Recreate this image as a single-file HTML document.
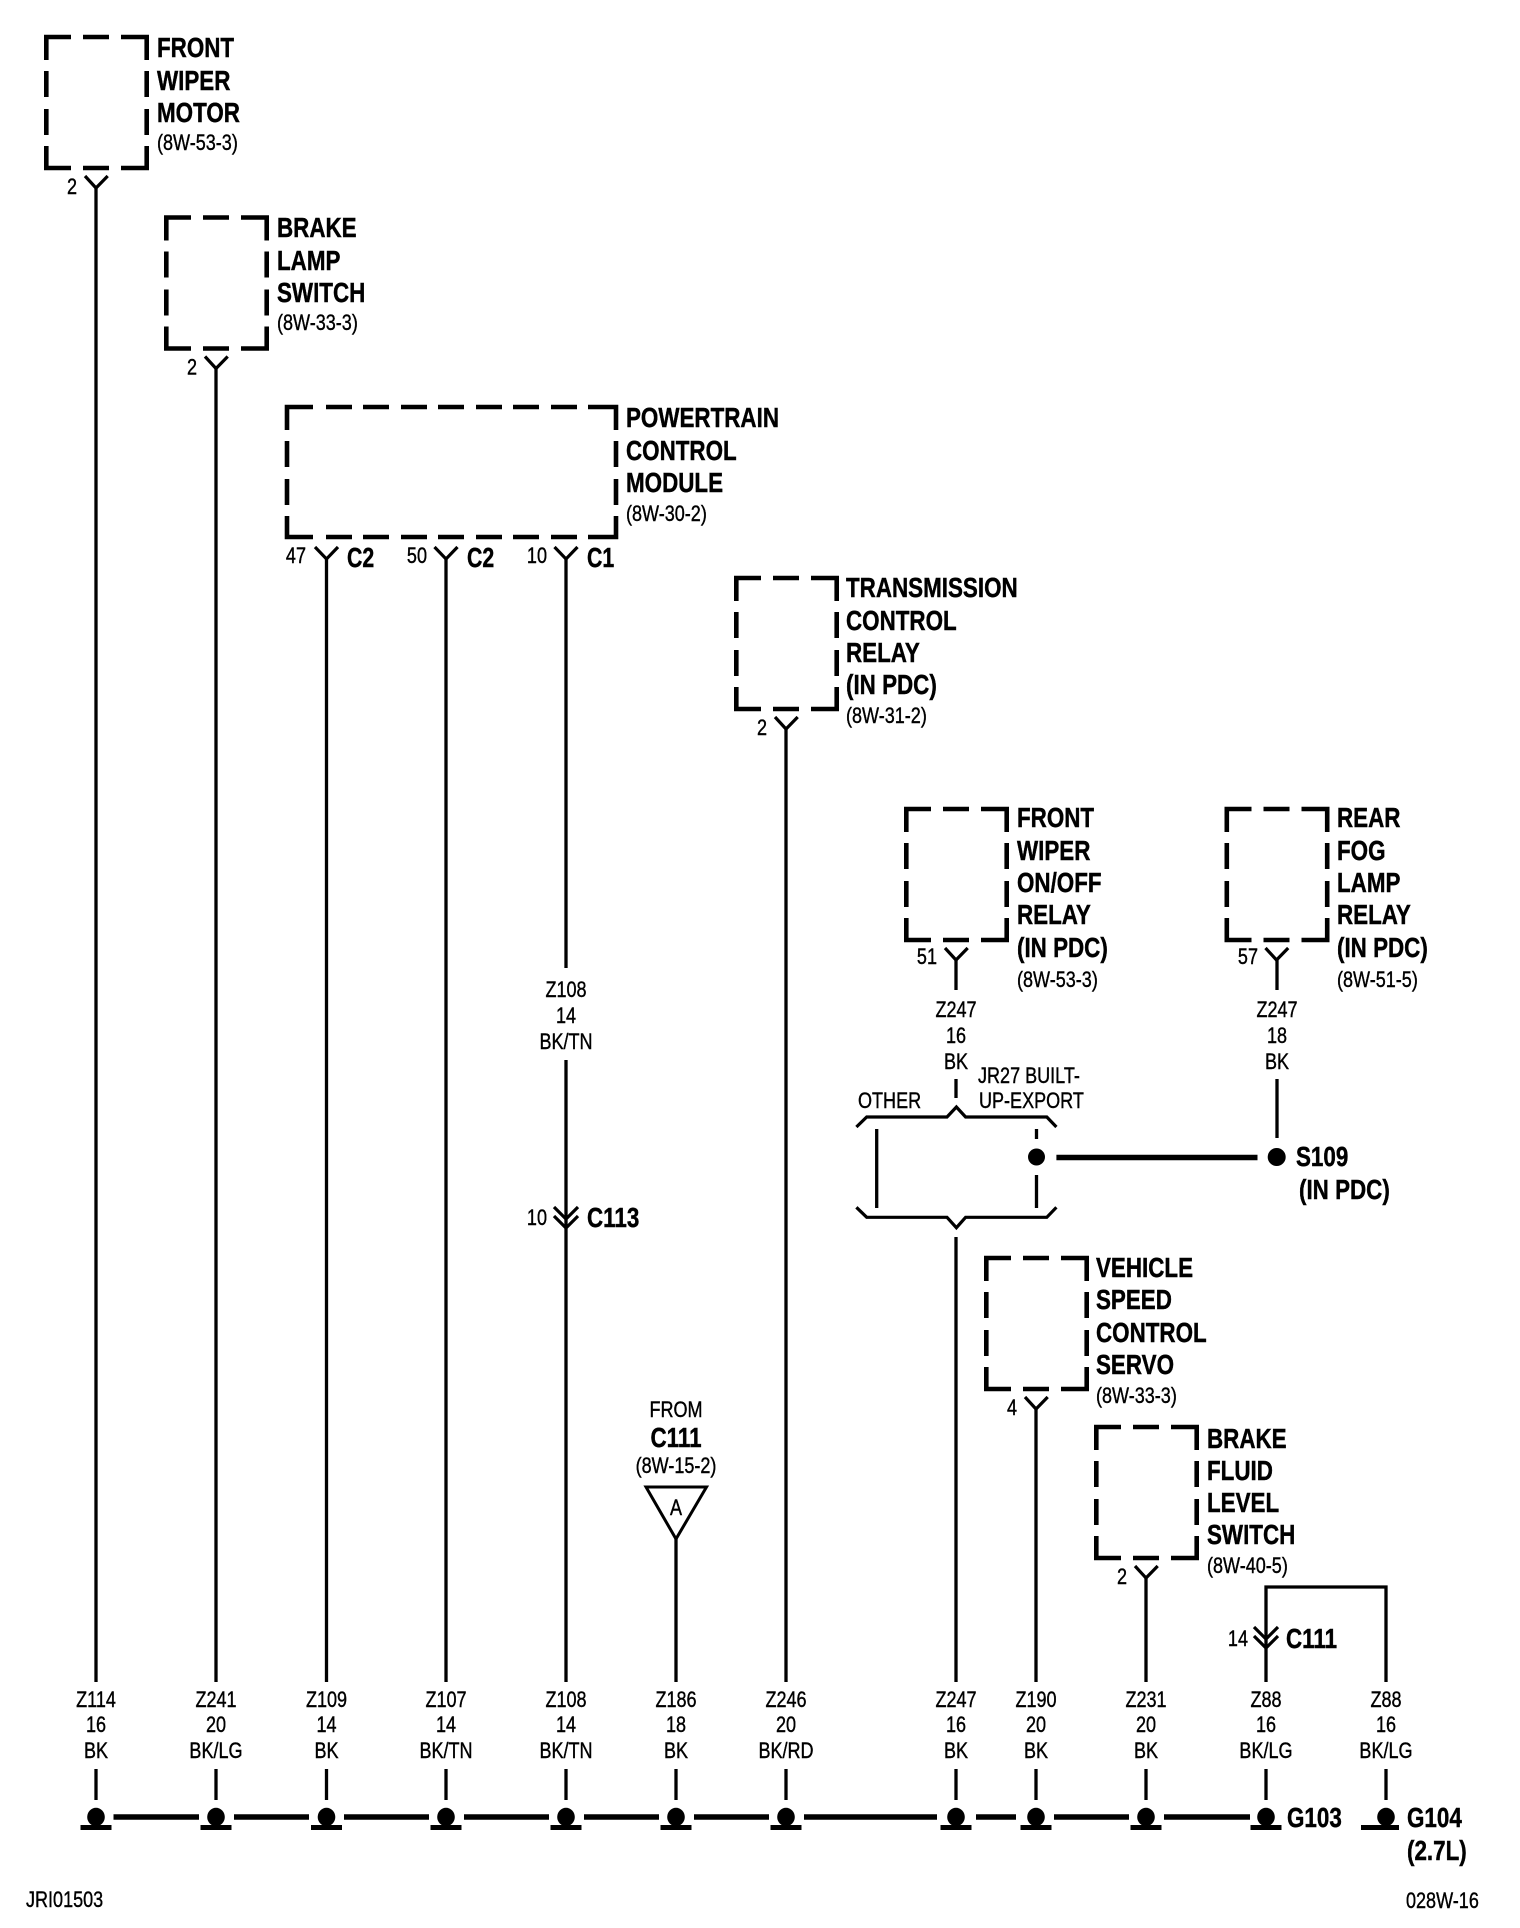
<!DOCTYPE html>
<html>
<head>
<meta charset="utf-8">
<style>
html,body{margin:0;padding:0;background:#fff}
svg{display:block}
text{fill:#000;font-family:"Liberation Sans",sans-serif}
.b{font-weight:bold;font-size:28px;stroke:#000;stroke-width:.45px}
.s{font-size:22px;stroke:#000;stroke-width:.4px}
.m{text-anchor:middle}
.e{text-anchor:end}
.w{fill:none;stroke:#000;stroke-width:3.3}
.d{fill:none;stroke:#000;stroke-width:4.6}
.t{fill:none;stroke:#000;stroke-width:5.5}
.c{fill:none;stroke:#000;stroke-width:3.2}
</style>
</head>
<body>
<svg width="1520" height="1928" viewBox="0 0 1520 1928" xmlns="http://www.w3.org/2000/svg">
<defs>
<g id="box">
<path class="d" d="M46.3 60V37H71M83 37H109M121 37H146.7V60M146.7 71V97M146.7 109V135M146.7 146V168H121M109 168H83M71 168H46.3V146M46.3 135V109M46.3 97V71"/>
<path class="c" d="M85 176L96 188L107.7 176"/>
</g>
<path id="y" class="c" d="M-11.5 0L0 12L11.5 0"/>
<path id="v" class="c" d="M-12 0L0 12L12 0M-12 9L0 21L12 9"/>
<g id="gnd">
<ellipse cx="0" cy="1817" rx="8.8" ry="9.2"/>
<rect x="-15.5" y="1825" width="31" height="5"/>
<path class="w" d="M0 1769V1800"/>
</g>
</defs>

<!-- boxes -->
<use href="#box"/>
<use href="#box" transform="translate(120 180.5)"/>
<use href="#box" transform="translate(690 541)"/>
<use href="#box" transform="translate(860 772)"/>
<use href="#box" transform="translate(1180.5 772)"/>
<use href="#box" transform="translate(940 1221)"/>
<use href="#box" transform="translate(1050 1390)"/>

<!-- PCM -->
<path class="d" d="M287 430V407H313M326 407H352M363 407H389M401 407H427M438 407H464M476 407H502M513 407H539M551 407H577M588 407H616V430M616 441V467M616 479V505M616 516V537H588M577 537H551M539 537H513M502 537H476M464 537H438M427 537H401M389 537H363M352 537H326M313 537H287V516M287 505V479M287 467V441"/>
<use href="#y" transform="translate(326.5 547)"/>
<use href="#y" transform="translate(446 547)"/>
<use href="#y" transform="translate(566 547)"/>

<!-- wires -->
<path class="w" d="M96 188V1682M216 368V1682M326.5 559V1682M446 559V1682M566 559V968M566 1060V1682M786 729V1682M956 960V990M956 1079V1098M956 1237V1682M1277 960V990M1277 1079V1138M1036 1409V1682M1146 1578V1682M1266 1682V1587H1386V1682M676 1539V1682M876.7 1129V1208M1036.5 1129V1139M1036.5 1175V1208"/>

<!-- chevrons -->
<use href="#v" transform="translate(566 1207)"/>
<use href="#v" transform="translate(1266 1627)"/>

<!-- brackets -->
<path class="c" d="M856.4 1127L866.7 1117H947L956.4 1107L965.6 1117H1046.8L1056.4 1127"/>
<path class="c" d="M856.4 1207.3L866.7 1217.3H947L956.4 1227.7L965.6 1217.3H1046.8L1056.4 1207.3"/>

<!-- S109 -->
<circle cx="1036.5" cy="1157" r="8.5"/>
<circle cx="1276.7" cy="1157" r="9"/>
<path class="t" d="M1056.4 1157.5H1257.5"/>

<!-- triangle -->
<path fill="none" stroke="#000" stroke-width="3" d="M646 1487H706.5L676 1539Z"/>

<!-- ground -->
<use href="#gnd" x="96"/><use href="#gnd" x="216"/><use href="#gnd" x="326.5"/><use href="#gnd" x="446"/><use href="#gnd" x="566"/><use href="#gnd" x="676"/><use href="#gnd" x="786"/><use href="#gnd" x="956"/><use href="#gnd" x="1036"/><use href="#gnd" x="1146"/><use href="#gnd" x="1266"/>
<ellipse cx="1386" cy="1817" rx="8.8" ry="9.2"/>
<rect x="1361" y="1825" width="38" height="5"/>
<path class="w" d="M1386 1769V1800"/>
<path class="t" d="M113.5 1817H199M234 1817H309M344 1817H429M464 1817H549M584 1817H659M694 1817H769M804 1817H937M976 1817H1016M1054 1817H1129M1164 1817H1250"/>

<!-- bold labels -->
<g class="b">
<text transform="translate(157 57) scale(.8 1)">FRONT</text>
<text transform="translate(157 90) scale(.8 1)">WIPER</text>
<text transform="translate(157 122) scale(.8 1)">MOTOR</text>
<text transform="translate(277 237) scale(.8 1)">BRAKE</text>
<text transform="translate(277 270) scale(.8 1)">LAMP</text>
<text transform="translate(277 302) scale(.8 1)">SWITCH</text>
<text transform="translate(626 427) scale(.8 1)">POWERTRAIN</text>
<text transform="translate(626 460) scale(.8 1)">CONTROL</text>
<text transform="translate(626 492) scale(.8 1)">MODULE</text>
<text transform="translate(347 567) scale(.76 1)">C2</text>
<text transform="translate(467 567) scale(.76 1)">C2</text>
<text transform="translate(587 567) scale(.76 1)">C1</text>
<text transform="translate(846 597) scale(.8 1)">TRANSMISSION</text>
<text transform="translate(846 630) scale(.8 1)">CONTROL</text>
<text transform="translate(846 662) scale(.8 1)">RELAY</text>
<text transform="translate(846 694) scale(.8 1)">(IN PDC)</text>
<text transform="translate(1017 827) scale(.8 1)">FRONT</text>
<text transform="translate(1017 860) scale(.8 1)">WIPER</text>
<text transform="translate(1017 892) scale(.8 1)">ON/OFF</text>
<text transform="translate(1017 924) scale(.8 1)">RELAY</text>
<text transform="translate(1017 957) scale(.8 1)">(IN PDC)</text>
<text transform="translate(1337 827) scale(.8 1)">REAR</text>
<text transform="translate(1337 860) scale(.8 1)">FOG</text>
<text transform="translate(1337 892) scale(.8 1)">LAMP</text>
<text transform="translate(1337 924) scale(.8 1)">RELAY</text>
<text transform="translate(1337 957) scale(.8 1)">(IN PDC)</text>
<text transform="translate(1296 1166) scale(.8 1)">S109</text>
<text transform="translate(1299 1199) scale(.8 1)">(IN PDC)</text>
<text transform="translate(587 1227) scale(.8 1)">C113</text>
<text class="m" transform="translate(676 1447) scale(.8 1)">C111</text>
<text transform="translate(1096 1277) scale(.8 1)">VEHICLE</text>
<text transform="translate(1096 1309) scale(.8 1)">SPEED</text>
<text transform="translate(1096 1342) scale(.8 1)">CONTROL</text>
<text transform="translate(1096 1374) scale(.8 1)">SERVO</text>
<text transform="translate(1207 1448) scale(.8 1)">BRAKE</text>
<text transform="translate(1207 1480) scale(.8 1)">FLUID</text>
<text transform="translate(1207 1512) scale(.8 1)">LEVEL</text>
<text transform="translate(1207 1544) scale(.8 1)">SWITCH</text>
<text transform="translate(1286 1648) scale(.8 1)">C111</text>
<text transform="translate(1287 1827) scale(.8 1)">G103</text>
<text transform="translate(1407 1827) scale(.8 1)">G104</text>
<text transform="translate(1407 1860) scale(.8 1)">(2.7L)</text>
</g>

<!-- small labels -->
<g class="s">
<text transform="translate(157 150) scale(.82 1)">(8W-53-3)</text>
<text transform="translate(277 330) scale(.82 1)">(8W-33-3)</text>
<text transform="translate(626 521) scale(.82 1)">(8W-30-2)</text>
<text transform="translate(846 723) scale(.82 1)">(8W-31-2)</text>
<text transform="translate(1017 987) scale(.82 1)">(8W-53-3)</text>
<text transform="translate(1337 987) scale(.82 1)">(8W-51-5)</text>
<text transform="translate(1096 1403) scale(.82 1)">(8W-33-3)</text>
<text transform="translate(1207 1573) scale(.82 1)">(8W-40-5)</text>
<text class="e" transform="translate(77 194) scale(.82 1)">2</text>
<text class="e" transform="translate(197 374.5) scale(.82 1)">2</text>
<text class="e" transform="translate(767 735) scale(.82 1)">2</text>
<text class="e" transform="translate(937 964) scale(.82 1)">51</text>
<text class="e" transform="translate(1258 964) scale(.82 1)">57</text>
<text class="e" transform="translate(1017 1415) scale(.82 1)">4</text>
<text class="e" transform="translate(1127 1584) scale(.82 1)">2</text>
<text class="e" transform="translate(306 563) scale(.82 1)">47</text>
<text class="e" transform="translate(427 563) scale(.82 1)">50</text>
<text class="e" transform="translate(547 563) scale(.82 1)">10</text>
<text class="e" transform="translate(547 1225) scale(.82 1)">10</text>
<text class="e" transform="translate(1248 1646) scale(.82 1)">14</text>
<g class="m">
<text transform="translate(566 997) scale(.82 1)">Z108</text>
<text transform="translate(566 1023) scale(.82 1)">14</text>
<text transform="translate(566 1049) scale(.82 1)">BK/TN</text>
<text transform="translate(956 1017) scale(.82 1)">Z247</text>
<text transform="translate(956 1043) scale(.82 1)">16</text>
<text transform="translate(956 1069) scale(.82 1)">BK</text>
<text transform="translate(1277 1017) scale(.82 1)">Z247</text>
<text transform="translate(1277 1043) scale(.82 1)">18</text>
<text transform="translate(1277 1069) scale(.82 1)">BK</text>
<text transform="translate(676 1417) scale(.82 1)">FROM</text>
<text transform="translate(676 1473) scale(.82 1)">(8W-15-2)</text>
<text transform="translate(676 1515) scale(.82 1)">A</text>
<g transform="translate(0 -1)">
<text transform="translate(96 1708) scale(.82 1)">Z114</text><text transform="translate(96 1733) scale(.82 1)">16</text><text transform="translate(96 1759) scale(.82 1)">BK</text>
<text transform="translate(216 1708) scale(.82 1)">Z241</text><text transform="translate(216 1733) scale(.82 1)">20</text><text transform="translate(216 1759) scale(.82 1)">BK/LG</text>
<text transform="translate(326.5 1708) scale(.82 1)">Z109</text><text transform="translate(326.5 1733) scale(.82 1)">14</text><text transform="translate(326.5 1759) scale(.82 1)">BK</text>
<text transform="translate(446 1708) scale(.82 1)">Z107</text><text transform="translate(446 1733) scale(.82 1)">14</text><text transform="translate(446 1759) scale(.82 1)">BK/TN</text>
<text transform="translate(566 1708) scale(.82 1)">Z108</text><text transform="translate(566 1733) scale(.82 1)">14</text><text transform="translate(566 1759) scale(.82 1)">BK/TN</text>
<text transform="translate(676 1708) scale(.82 1)">Z186</text><text transform="translate(676 1733) scale(.82 1)">18</text><text transform="translate(676 1759) scale(.82 1)">BK</text>
<text transform="translate(786 1708) scale(.82 1)">Z246</text><text transform="translate(786 1733) scale(.82 1)">20</text><text transform="translate(786 1759) scale(.82 1)">BK/RD</text>
<text transform="translate(956 1708) scale(.82 1)">Z247</text><text transform="translate(956 1733) scale(.82 1)">16</text><text transform="translate(956 1759) scale(.82 1)">BK</text>
<text transform="translate(1036 1708) scale(.82 1)">Z190</text><text transform="translate(1036 1733) scale(.82 1)">20</text><text transform="translate(1036 1759) scale(.82 1)">BK</text>
<text transform="translate(1146 1708) scale(.82 1)">Z231</text><text transform="translate(1146 1733) scale(.82 1)">20</text><text transform="translate(1146 1759) scale(.82 1)">BK</text>
<text transform="translate(1266 1708) scale(.82 1)">Z88</text><text transform="translate(1266 1733) scale(.82 1)">16</text><text transform="translate(1266 1759) scale(.82 1)">BK/LG</text>
<text transform="translate(1386 1708) scale(.82 1)">Z88</text><text transform="translate(1386 1733) scale(.82 1)">16</text><text transform="translate(1386 1759) scale(.82 1)">BK/LG</text>
</g>
</g>
<text transform="translate(858 1108) scale(.82 1)">OTHER</text>
<text transform="translate(978 1083) scale(.82 1)">JR27 BUILT-</text>
<text transform="translate(979 1108) scale(.82 1)">UP-EXPORT</text>
<text transform="translate(26 1907) scale(.82 1)">JRI01503</text>
<text transform="translate(1406 1908) scale(.82 1)">028W-16</text>
</g>
</svg>
</body>
</html>
